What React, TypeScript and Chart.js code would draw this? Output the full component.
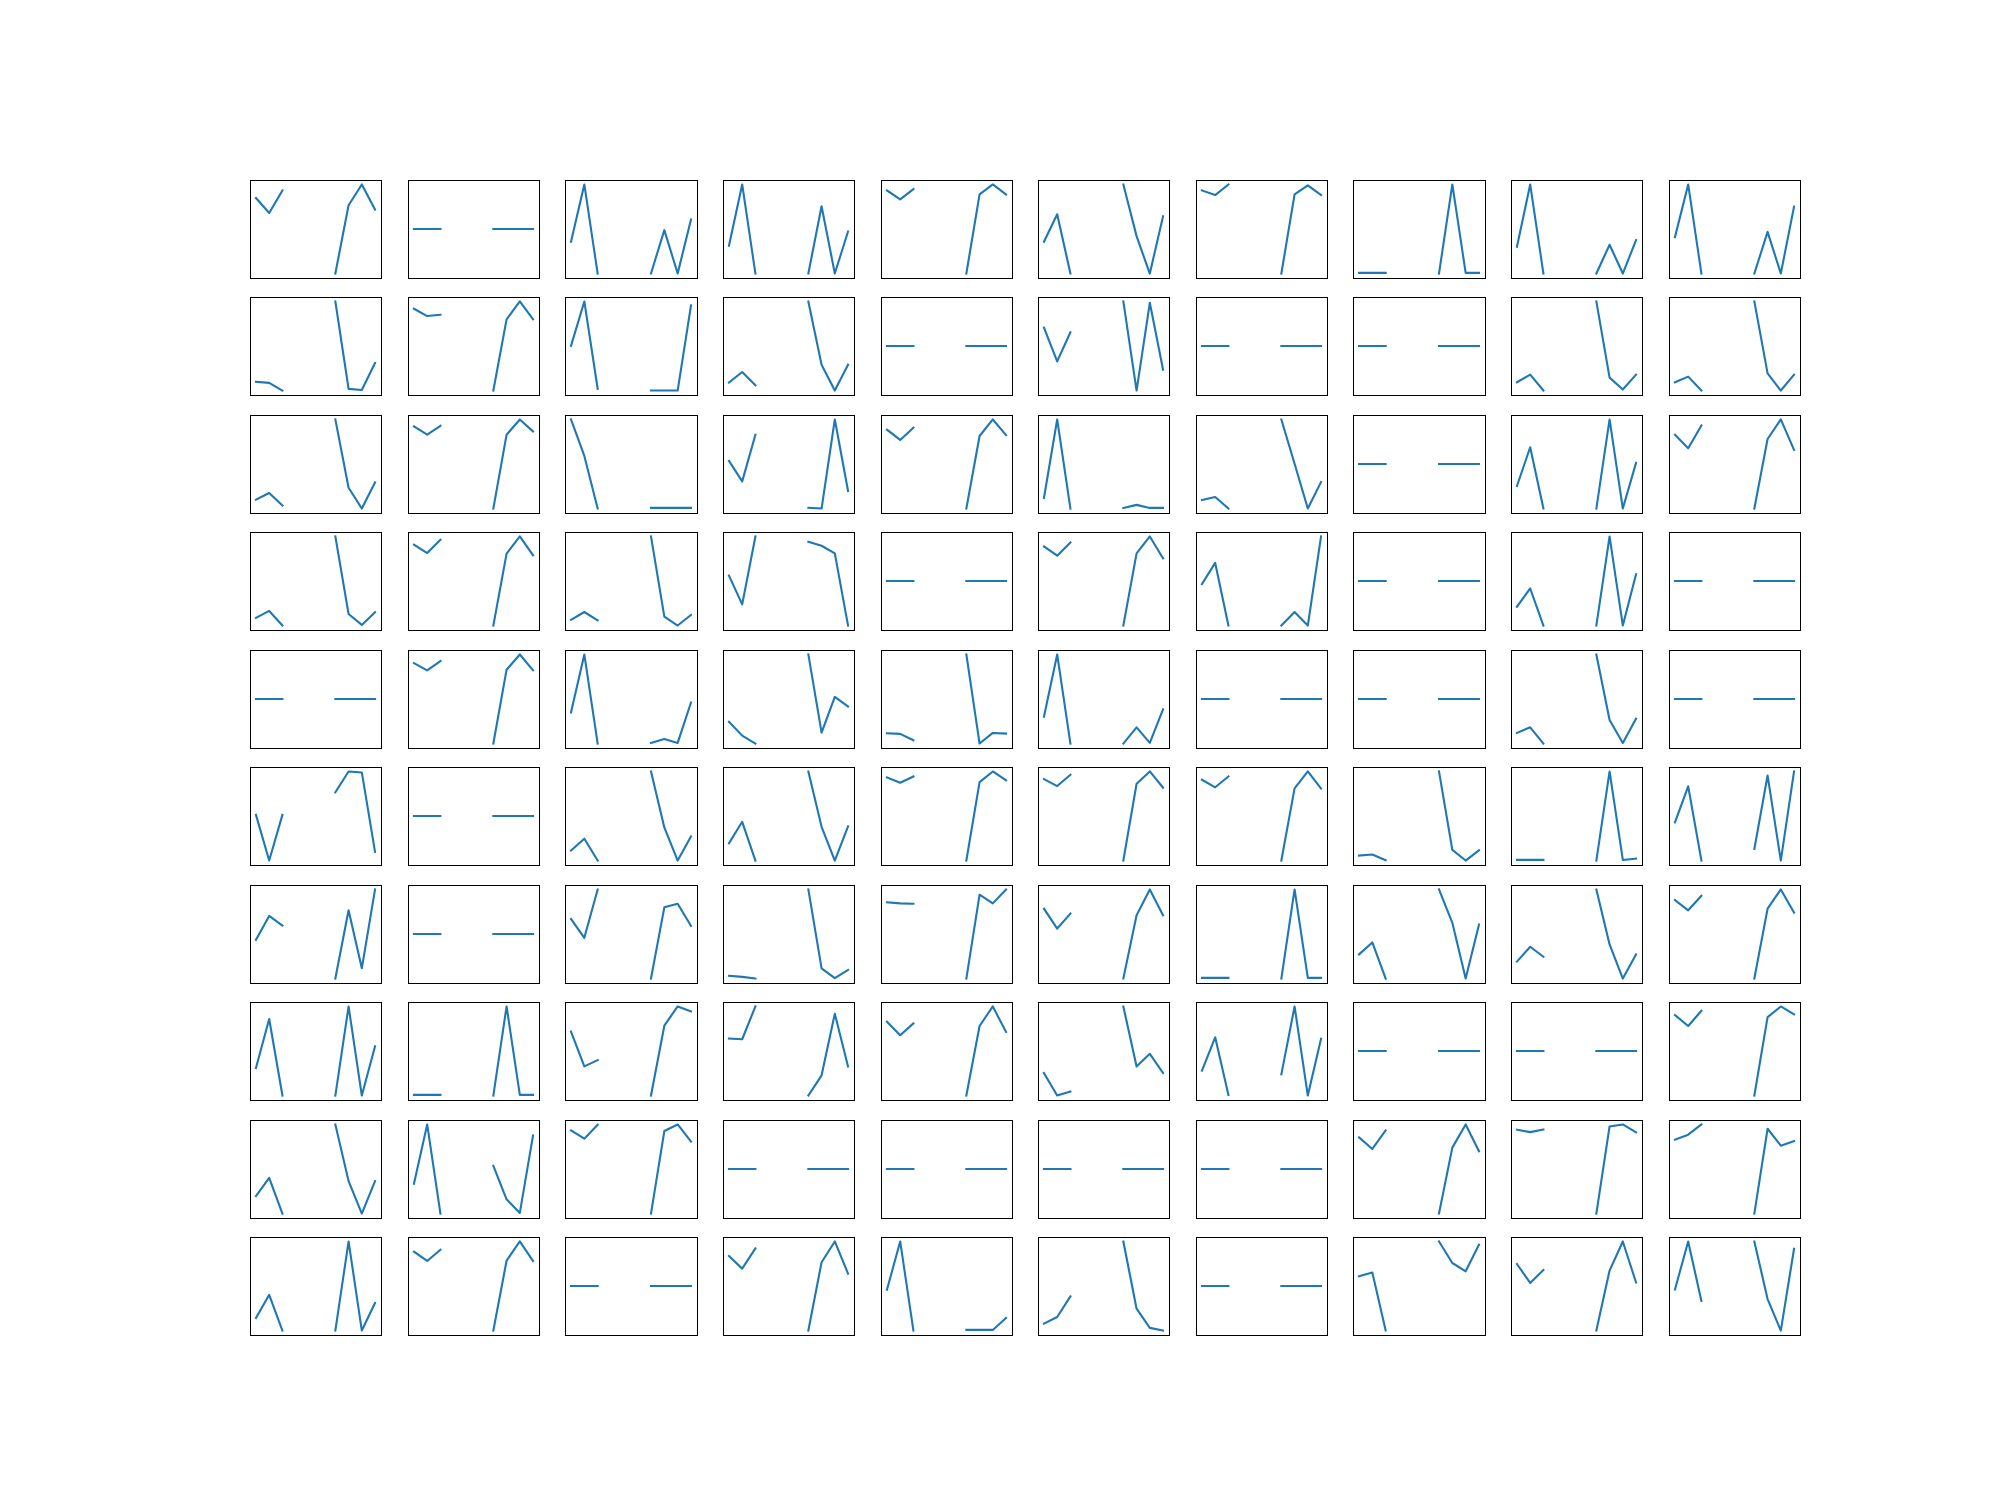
import React, { useEffect, useRef } from "react";
import { Chart, registerables } from "chart.js";

Chart.register(...registerables);

const N = null;
const X_VALUES = [0, 1, 2, 3, 4, 5, 6, 7, 8, 9];
const FLAT = [0.5, 0.5, 0.5, N, N, N, 0.5, 0.5, 0.5, 0.5];

const ROW_0 = [
  [0.848, 0.68, 0.933, N, N, N, 0, 0.766, 1, 0.717],
  FLAT,
  [0.357, 1, 0, N, N, N, 0, 0.487, 0, 0.606],
  [0.312, 1, 0, N, N, N, 0, 0.755, 0, 0.472],
  [0.933, 0.833, 0.948, N, N, N, 0, 0.888, 1, 0.888],
  [0.357, 0.665, 0, N, N, N, 1, 0.42, 0, 0.643],
  [0.933, 0.881, 1, N, N, N, 0, 0.888, 0.989, 0.881],
  [0.008, 0.008, 0.008, N, N, N, 0, 1, 0.008, 0.008],
  [0.301, 1, 0, N, N, N, 0, 0.323, 0, 0.375],
  [0.409, 1, 0, N, N, N, 0, 0.468, 0, 0.751],
];
const ROW_1 = [
  [0.097, 0.086, 0, N, N, N, 1, 0.019, 0.007, 0.309],
  [0.918, 0.836, 0.851, N, N, N, 0, 0.799, 1, 0.799],
  [0.502, 1, 0.02, N, N, N, 0, 0, 0, 0.955],
  [0.089, 0.208, 0.059, N, N, N, 1, 0.29, 0, 0.29],
  FLAT,
  [0.706, 0.327, 0.654, N, N, N, 1, 0, 0.985, 0.234],
  FLAT,
  FLAT,
  [0.093, 0.178, 0, N, N, N, 1, 0.145, 0.011, 0.178],
  [0.093, 0.156, 0, N, N, N, 1, 0.193, 0, 0.178],
];
const ROW_2 = [
  [0.1, 0.175, 0.033, N, N, N, 1, 0.234, 0, 0.294],
  [0.922, 0.829, 0.929, N, N, N, 0, 0.829, 1, 0.866],
  [1, 0.591, 0, N, N, N, 0.007, 0.007, 0.007, 0.007],
  [0.535, 0.305, 0.829, N, N, N, 0.008, 0, 1, 0.197],
  [0.885, 0.77, 0.907, N, N, N, 0, 0.814, 1, 0.825],
  [0.119, 1, 0, N, N, N, 0.007, 0.041, 0.007, 0.007],
  [0.097, 0.13, 0, N, N, N, 1, 0.502, 0, 0.297],
  FLAT,
  [0.253, 0.688, 0, N, N, N, 0, 1, 0, 0.513],
  [0.829, 0.677, 0.933, N, N, N, 0, 0.781, 1, 0.658],
];
const ROW_3 = [
  [0.086, 0.164, 0, N, N, N, 1, 0.13, 0.007, 0.149],
  [0.907, 0.814, 0.963, N, N, N, 0, 0.807, 1, 0.788],
  [0.063, 0.152, 0.059, N, N, N, 1, 0.1, 0, 0.119],
  [0.561, 0.238, 1, N, N, N, 0.941, 0.896, 0.81, 0],
  FLAT,
  [0.888, 0.784, 0.933, N, N, N, 0, 0.81, 1, 0.755],
  [0.465, 0.703, 0, N, N, N, 0, 0.152, 0, 1],
  FLAT,
  [0.212, 0.416, 0, N, N, N, 0, 1, 0, 0.576],
  FLAT,
];
const ROW_4 = [
  FLAT,
  [0.903, 0.822, 0.926, N, N, N, 0, 0.829, 1, 0.822],
  [0.349, 1, 0, N, N, N, 0.007, 0.052, 0.007, 0.461],
  [0.245, 0.089, 0, N, N, N, 1, 0.123, 0.524, 0.416],
  [0.115, 0.108, 0.037, N, N, N, 1, 0, 0.119, 0.112],
  [0.301, 1, 0, N, N, N, 0, 0.182, 0.007, 0.383],
  FLAT,
  FLAT,
  [0.119, 0.182, 0, N, N, N, 1, 0.264, 0.007, 0.279],
  FLAT,
];
const ROW_5 = [
  [0.513, 0, 0.513, N, N, N, 0.766, 1, 0.989, 0.097],
  FLAT,
  [0.112, 0.245, 0, N, N, N, 1, 0.372, 0, 0.271],
  [0.193, 0.435, 0, N, N, N, 1, 0.379, 0, 0.383],
  [0.933, 0.874, 0.944, N, N, N, 0, 0.881, 1, 0.9],
  [0.914, 0.836, 0.963, N, N, N, 0, 0.862, 1, 0.818],
  [0.907, 0.822, 0.944, N, N, N, 0, 0.81, 1, 0.807],
  [0.056, 0.067, 0.004, N, N, N, 1, 0.119, 0, 0.115],
  [0.007, 0.007, 0.007, N, N, N, 0, 1, 0.007, 0.022],
  [0.428, 0.833, 0, N, N, N, 0.13, 0.955, 0, 1],
];
const ROW_6 = [
  [0.435, 0.703, 0.595, N, N, N, 0, 0.766, 0.115, 1],
  FLAT,
  [0.669, 0.457, 1, N, N, N, 0, 0.799, 0.84, 0.591],
  [0.03, 0.019, 0, N, N, N, 1, 0.115, 0.004, 0.097],
  [0.855, 0.844, 0.84, N, N, N, 0, 0.941, 0.844, 1],
  [0.784, 0.561, 0.729, N, N, N, 0, 0.71, 1, 0.71],
  [0.007, 0.007, 0.007, N, N, N, 0, 1, 0.007, 0.007],
  [0.271, 0.405, 0, N, N, N, 1, 0.625, 0, 0.606],
  [0.19, 0.357, 0.245, N, N, N, 1, 0.383, 0, 0.271],
  [0.881, 0.766, 0.929, N, N, N, 0, 0.784, 1, 0.74],
];
const ROW_7 = [
  [0.309, 0.859, 0, N, N, N, 0, 1, 0, 0.554],
  [0.007, 0.007, 0.007, N, N, N, 0, 1, 0.007, 0.007],
  [0.717, 0.327, 0.398, N, N, N, 0, 0.784, 1, 0.944],
  [0.639, 0.632, 1, N, N, N, 0, 0.227, 0.918, 0.327],
  [0.829, 0.677, 0.81, N, N, N, 0, 0.781, 1, 0.714],
  [0.253, 0, 0.045, N, N, N, 1, 0.327, 0.468, 0.253],
  [0.279, 0.654, 0.007, N, N, N, 0.238, 1, 0, 0.636],
  FLAT,
  FLAT,
  [0.903, 0.781, 0.952, N, N, N, 0, 0.881, 1, 0.911],
];
const ROW_8 = [
  [0.197, 0.401, 0, N, N, N, 1, 0.364, 0, 0.364],
  [0.335, 1, 0, N, N, N, 0.535, 0.16, 0.007, 0.877],
  [0.933, 0.84, 0.996, N, N, N, 0, 0.926, 1, 0.807],
  FLAT,
  FLAT,
  FLAT,
  FLAT,
  [0.855, 0.725, 0.933, N, N, N, 0, 0.74, 1, 0.699],
  [0.941, 0.914, 0.944, N, N, N, 0, 0.978, 1, 0.911],
  [0.829, 0.885, 1, N, N, N, 0, 0.952, 0.762, 0.814],
];
const ROW_9 = [
  [0.141, 0.401, 0, N, N, N, 0, 1, 0, 0.309],
  [0.885, 0.781, 0.907, N, N, N, 0, 0.784, 1, 0.781],
  FLAT,
  [0.836, 0.695, 0.922, N, N, N, 0, 0.766, 1, 0.639],
  [0.457, 1, 0, N, N, N, 0.007, 0.007, 0.007, 0.141],
  [0.078, 0.152, 0.383, N, N, N, 1, 0.245, 0.03, 0],
  FLAT,
  [0.61, 0.651, 0, N, N, N, 1, 0.758, 0.665, 0.963],
  [0.747, 0.535, 0.68, N, N, N, 0, 0.673, 1, 0.539],
  [0.461, 1, 0.331, N, N, N, 1, 0.353, 0, 0.918],
];

const ROWS = [ROW_0, ROW_1, ROW_2, ROW_3, ROW_4, ROW_5, ROW_6, ROW_7, ROW_8, ROW_9];

const LINE_COLOR = "#1f77b4";
const FIG_W = 2000;
const FIG_H = 1500;
const LEFT = 0.125 * FIG_W;
const RIGHT = 0.9 * FIG_W;
const TOP = (1 - 0.88) * FIG_H;
const BOTTOM = (1 - 0.11) * FIG_H;
const NCOL = 10;
const NROW = 10;
const CELL_W = (RIGHT - LEFT) / (NCOL + (NCOL - 1) * 0.2);
const CELL_H = (BOTTOM - TOP) / (NROW + (NROW - 1) * 0.2);
const PAD = 3;

const framePlugin = {
  id: "frame",
  afterDraw(chart: any) {
    const { ctx, chartArea } = chart;
    ctx.save();
    ctx.strokeStyle = "#000000";
    ctx.lineWidth = 1;
    ctx.strokeRect(
      Math.round(chartArea.left) + 0.5,
      Math.round(chartArea.top) + 0.5,
      Math.round(chartArea.right - chartArea.left),
      Math.round(chartArea.bottom - chartArea.top)
    );
    ctx.restore();
  },
};

function SubPlot({ values, row, col }: { values: (number | null)[]; row: number; col: number }) {
  const ref = useRef<HTMLCanvasElement>(null);
  const x0 = LEFT + col * CELL_W * 1.2;
  const y0 = TOP + row * CELL_H * 1.2;
  const bx = Math.round(x0);
  const by = Math.round(y0);
  const bw = Math.round(x0 + CELL_W) - bx;
  const bh = Math.round(y0 + CELL_H) - by;

  useEffect(() => {
    if (!ref.current) return;
    const valid = values.filter((v) => v !== null) as number[];
    let lo = Math.min(...valid);
    let hi = Math.max(...valid);
    if (hi === lo) {
      const d = Math.abs(lo) * 0.05 || 0.1;
      lo -= d;
      hi += d;
    }
    const m = (hi - lo) * 0.05;
    const chart = new Chart(ref.current, {
      type: "line",
      data: {
        datasets: [
          {
            data: X_VALUES.map((x, i) => ({ x, y: values[i] })),
            borderColor: LINE_COLOR,
            borderWidth: 2.1,
            pointRadius: 0,
            pointHoverRadius: 0,
            tension: 0,
            spanGaps: false,
            fill: false,
            borderCapStyle: "square",
            borderJoinStyle: "round",
          },
        ],
      },
      options: {
        animation: false,
        responsive: false,
        devicePixelRatio: 1,
        events: [],
        layout: { padding: PAD },
        plugins: { legend: { display: false }, tooltip: { enabled: false } },
        scales: {
          x: { type: "linear", display: false, min: -0.45, max: 9.45 },
          y: { type: "linear", display: false, min: lo - m, max: hi + m },
        },
      },
      plugins: [framePlugin],
    } as any);
    return () => chart.destroy();
  }, [values]);

  return (
    <canvas
      ref={ref}
      width={bw + 2 * PAD}
      height={bh + 2 * PAD}
      style={{
        position: "absolute",
        left: bx - PAD,
        top: by - PAD,
        width: bw + 2 * PAD,
        height: bh + 2 * PAD,
      }}
    />
  );
}

export default function App() {
  return (
    <div
      style={{
        position: "absolute",
        left: 0,
        top: 0,
        width: FIG_W,
        height: FIG_H,
        background: "#ffffff",
        overflow: "hidden",
      }}
    >
      {ROWS.map((row, r) =>
        row.map((vals, c) => <SubPlot key={`${r}-${c}`} values={vals} row={r} col={c} />)
      )}
    </div>
  );
}
